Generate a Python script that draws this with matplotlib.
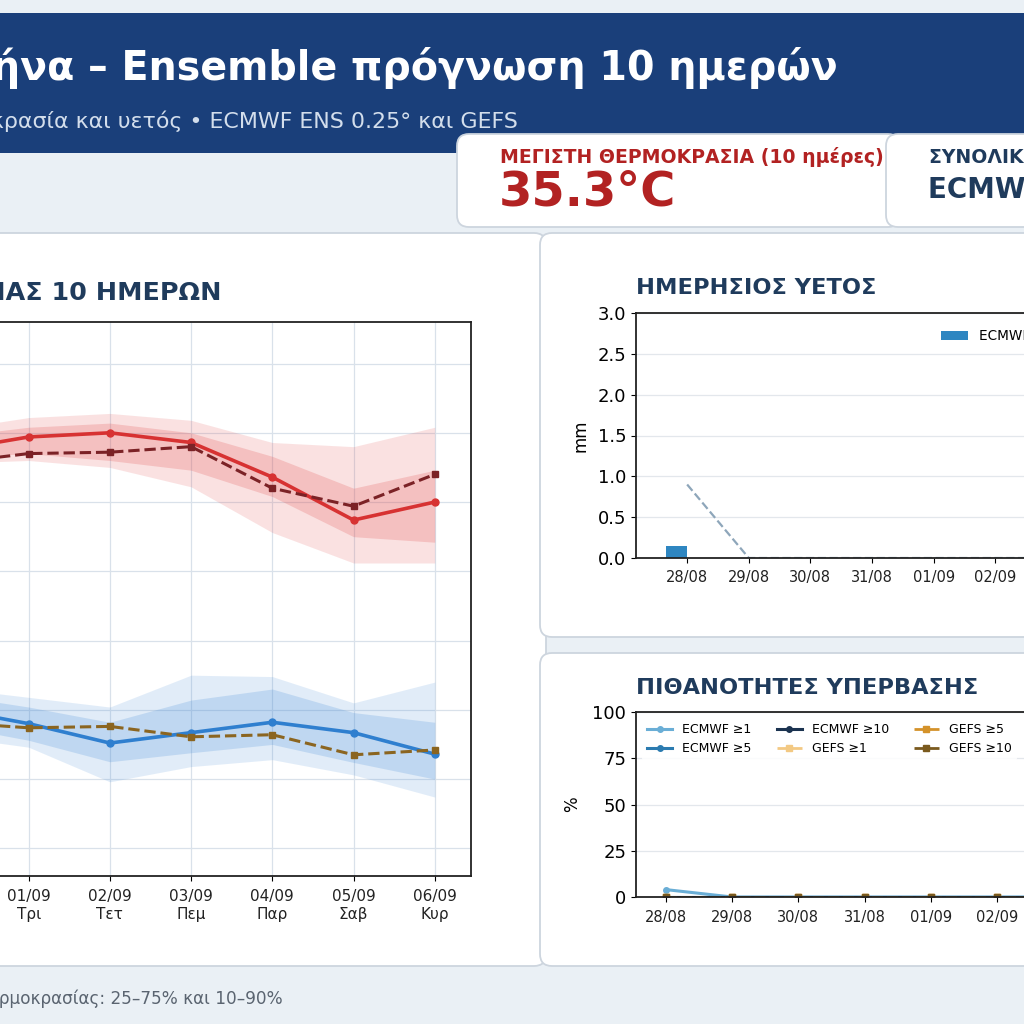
import matplotlib
matplotlib.use("Agg")
import matplotlib.pyplot as plt
from matplotlib.patches import FancyBboxPatch, Rectangle

plt.rcParams["font.family"] = ["DejaVu Sans"]

W = H = 1024

# ---------------- data ----------------
dates = ["28/08", "29/08", "30/08", "31/08", "01/09", "02/09", "03/09", "04/09", "05/09", "06/09"]
weekdays = ["Παρ", "Σαβ", "Κυρ", "Δευ", "Τρι", "Τετ", "Πεμ", "Παρ", "Σαβ", "Κυρ"]

# temperature, visible days (31/08 – 06/09)
temp_days = ["31/08", "01/09", "02/09", "03/09", "04/09", "05/09", "06/09"]
ecmwf_tmax = [33.7, 34.7, 35.0, 34.3, 31.8, 28.7, 30.0]
gefs_tmax = [32.8, 33.5, 33.6, 34.0, 31.0, 29.7, 32.0]
tmax_p10 = [32.8, 33.0, 32.5, 31.1, 27.8, 25.6, 25.6]
tmax_p25 = [33.2, 33.5, 33.0, 32.3, 30.4, 27.5, 27.1]
tmax_p75 = [34.7, 35.4, 35.7, 35.0, 33.3, 31.0, 32.3]
tmax_p90 = [35.2, 36.1, 36.4, 35.9, 34.3, 34.0, 35.4]

ecmwf_tmin = [15.1, 14.0, 12.6, 13.35, 14.1, 13.35, 11.8]
gefs_tmin = [14.1, 13.7, 13.8, 13.05, 13.2, 11.75, 12.1]
tmin_p10 = [13.1, 12.3, 9.8, 10.9, 11.4, 10.3, 8.7]
tmin_p25 = [13.9, 12.8, 11.25, 11.9, 12.5, 11.2, 10.0]
tmin_p75 = [16.1, 15.2, 14.1, 15.7, 16.5, 14.8, 14.1]
tmin_p90 = [16.6, 15.9, 15.2, 17.5, 17.4, 15.5, 17.0]

# daily precipitation (mm)
rain_ecmwf = [0.15, 0, 0, 0, 0, 0, 0, 0, 0, 0]
rain_gefs = [0, 0, 0, 0, 0, 0, 0, 0, 0, 0]
rain_ecmwf_p90 = [0.9, 0, 0, 0, 0, 0, 0, 0, 0, 0]

# exceedance probabilities (%)
prob_ecmwf_1 = [4, 0, 0, 0, 0, 0, 0, 0, 0, 0]
prob_ecmwf_5 = [0, 0, 0, 0, 0, 0, 0, 0, 0, 0]
prob_ecmwf_10 = [0, 0, 0, 0, 0, 0, 0, 0, 0, 0]
prob_gefs_1 = [0, 0, 0, 0, 0, 0, 0, 0, 0, 0]
prob_gefs_5 = [0, 0, 0, 0, 0, 0, 0, 0, 0, 0]
prob_gefs_10 = [0, 0, 0, 0, 0, 0, 0, 0, 0, 0]

max_temp_text = "35.3°C"

# ---------------- helpers ----------------
fig = plt.figure(figsize=(10.24, 10.24), dpi=100)
fig.patch.set_facecolor("#eaf0f5")


def fx(x):
    return x / W


def fy(y):
    return 1 - y / H


def box(l, t, r, b, fc="white", ec="#cdd5de", z=-3, rad=12, lw=1.3):
    p = FancyBboxPatch((fx(l), fy(b)), (r - l) / W, (b - t) / H,
                       boxstyle=f"round,pad=0,rounding_size={rad / W}",
                       transform=fig.transFigure, fc=fc, ec=ec, lw=lw, zorder=z)
    fig.patches.append(p)


def axes_px(l, t, r, b):
    return fig.add_axes([fx(l), fy(b), (r - l) / W, (b - t) / H])


NAVY = "#1f3b5c"

# header band
fig.patches.append(Rectangle((0, fy(153)), 1, (153 - 13) / H, transform=fig.transFigure,
                             fc="#1a3f7a", ec="none", zorder=-6))
fig.text(fx(838), fy(68), "Αθήνα – Ensemble πρόγνωση 10 ημερών", ha="right", va="center",
         color="white", fontsize=28.5, fontweight="bold")
fig.text(fx(518), fy(121), "Θερμοκρασία και υετός • ECMWF ENS 0.25° και GEFS", ha="right",
         va="center", color="#d3deec", fontsize=15.9)

# KPI cards
box(457, 134, 900, 227, z=-5)
box(886, 134, 1120, 227, z=-4)
fig.text(fx(500), fy(157), "ΜΕΓΙΣΤΗ ΘΕΡΜΟΚΡΑΣΙΑ (10 ημέρες)", ha="left", va="center",
         color="#b22222", fontsize=13.6, fontweight="bold")
fig.text(fx(499), fy(205), max_temp_text, ha="left", va="baseline",
         color="#b22222", fontsize=34.5, fontweight="bold")
fig.text(fx(929), fy(157), "ΣΥΝΟΛΙΚΟΣ ΥΕΤΟΣ (10 ημέρες)", ha="left", va="center",
         color=NAVY, fontsize=13.6, fontweight="bold")
fig.text(fx(928), fy(190), "ECMWF 0.2 mm", ha="left", va="center",
         color=NAVY, fontsize=20, fontweight="bold")

# panels
box(-30, 233, 546, 966, z=-3)
box(540, 233, 1120, 637, z=-2)
box(540, 653, 1120, 966, z=-2)

# footer
fig.text(fx(283), fy(999), "Ζώνες θερμοκρασίας: 25–75% και 10–90%", ha="right", va="center",
         color="#5a6470", fontsize=12.2)

# ---------------- temperature chart ----------------
ax = axes_px(-332, 322, 470.5, 876)
xi = [dates.index(d) for d in temp_days]
ax.set_axisbelow(True)
ax.grid(True, color="#d9e1ea", lw=0.9)
ax.fill_between(xi, tmax_p10, tmax_p90, color="#e03c3c", alpha=0.15, lw=0)
ax.fill_between(xi, tmax_p25, tmax_p75, color="#e03c3c", alpha=0.20, lw=0)
ax.fill_between(xi, tmin_p10, tmin_p90, color="#3b86d6", alpha=0.15, lw=0)
ax.fill_between(xi, tmin_p25, tmin_p75, color="#3b86d6", alpha=0.20, lw=0)
ax.plot(xi, ecmwf_tmax, color="#d73232", lw=2.6, marker="o", ms=5, label="ECMWF Tmax")
ax.plot(xi, gefs_tmax, color="#7b2226", lw=2.2, ls="--", marker="s", ms=5, label="GEFS Tmax")
ax.plot(xi, ecmwf_tmin, color="#2f7fcf", lw=2.6, marker="o", ms=5, label="ECMWF Tmin")
ax.plot(xi, gefs_tmin, color="#8b6520", lw=2.2, ls="--", marker="s", ms=5, label="GEFS Tmin")
ax.set_xlim(-0.44, 9.44)
ax.set_ylim(3, 43)
ax.set_xticks(range(len(dates)))
ax.set_xticklabels([f"{d}\n{w}" for d, w in zip(dates, weekdays)], fontsize=11, color="#222222")
ax.tick_params(axis="x", pad=6)
ax.tick_params(axis="y", labelsize=11)
for s in ax.spines.values():
    s.set_color("#222222")
    s.set_linewidth(1.3)
fig.text(fx(221), fy(293), "ΠΡΟΓΝΩΣΗ ΘΕΡΜΟΚΡΑΣΙΑΣ 10 ΗΜΕΡΩΝ", ha="right", va="center",
         color=NAVY, fontsize=18.3, fontweight="bold")

# ---------------- rain chart ----------------
ax2 = axes_px(636, 313, 1293, 558)
x = list(range(len(dates)))
ax2.set_axisbelow(True)
ax2.grid(True, axis="y", color="#e3e7ec", lw=0.9)
b1 = ax2.bar([i - 0.175 for i in x], rain_ecmwf, width=0.35, color="#2e86c1", label="ECMWF ENS (μέσος)")
b2 = ax2.bar([i + 0.175 for i in x], rain_gefs, width=0.35, color="#e39b3a", label="GEFS (μέσος)")
l1, = ax2.plot(x, rain_ecmwf_p90, color="#8ea6ba", lw=1.6, ls="--", label="ECMWF P90")
ax2.set_xlim(-0.83, 9.83)
ax2.set_ylim(0, 3.0)
ax2.set_yticks([0, 0.5, 1.0, 1.5, 2.0, 2.5, 3.0])
ax2.set_xticks(x)
ax2.set_xticklabels(dates, fontsize=10.5, color="#222222")
ax2.tick_params(axis="x", pad=5)
ax2.tick_params(axis="y", labelsize=13)
ax2.set_ylabel("mm", fontsize=12, labelpad=6)
for s in ax2.spines.values():
    s.set_color("#222222")
    s.set_linewidth(1.3)
ax2.legend(handles=[b1, b2, l1], loc="upper left", bbox_to_anchor=(0.445, 0.985), ncol=3,
           frameon=False, fontsize=9.8)
fig.text(fx(636), fy(288), "ΗΜΕΡΗΣΙΟΣ ΥΕΤΟΣ", ha="left", va="center",
         color=NAVY, fontsize=16.2, fontweight="bold")

# ---------------- probability chart ----------------
ax3 = axes_px(636, 712, 1292, 897)
ax3.set_axisbelow(True)
ax3.grid(True, axis="y", color="#e3e7ec", lw=0.9)
ax3.plot(x, prob_ecmwf_1, color="#6aaed6", lw=2.2, marker="o", ms=4, label="ECMWF ≥1")
ax3.plot(x, prob_ecmwf_5, color="#2b7bb0", lw=2.2, marker="o", ms=4, label="ECMWF ≥5")
ax3.plot(x, prob_ecmwf_10, color="#1b3350", lw=2.2, marker="o", ms=4, label="ECMWF ≥10")
ax3.plot(x, prob_gefs_1, color="#f3c983", lw=2.0, ls="--", marker="s", ms=4, label="GEFS ≥1")
ax3.plot(x, prob_gefs_5, color="#d4922a", lw=2.0, ls="--", marker="s", ms=4, label="GEFS ≥5")
ax3.plot(x, prob_gefs_10, color="#7a5a1e", lw=2.0, ls="--", marker="s", ms=4, label="GEFS ≥10")
ax3.set_xlim(-0.45, 9.45)
ax3.set_ylim(0, 100)
ax3.set_yticks([0, 25, 50, 75, 100])
ax3.set_xticks(x)
ax3.set_xticklabels(dates, fontsize=10.5, color="#222222")
ax3.tick_params(axis="x", pad=6)
ax3.tick_params(axis="y", labelsize=13)
ax3.set_ylabel("%", fontsize=12, labelpad=8)
for s in ax3.spines.values():
    s.set_color("#222222")
    s.set_linewidth(1.3)
ax3.legend(loc="upper left", ncol=3, fontsize=9, framealpha=0.85, edgecolor="none")
fig.text(fx(636), fy(688), "ΠΙΘΑΝΟΤΗΤΕΣ ΥΠΕΡΒΑΣΗΣ", ha="left", va="center",
         color=NAVY, fontsize=16.2, fontweight="bold")

fig.savefig("out.png", dpi=100, facecolor=fig.get_facecolor())
